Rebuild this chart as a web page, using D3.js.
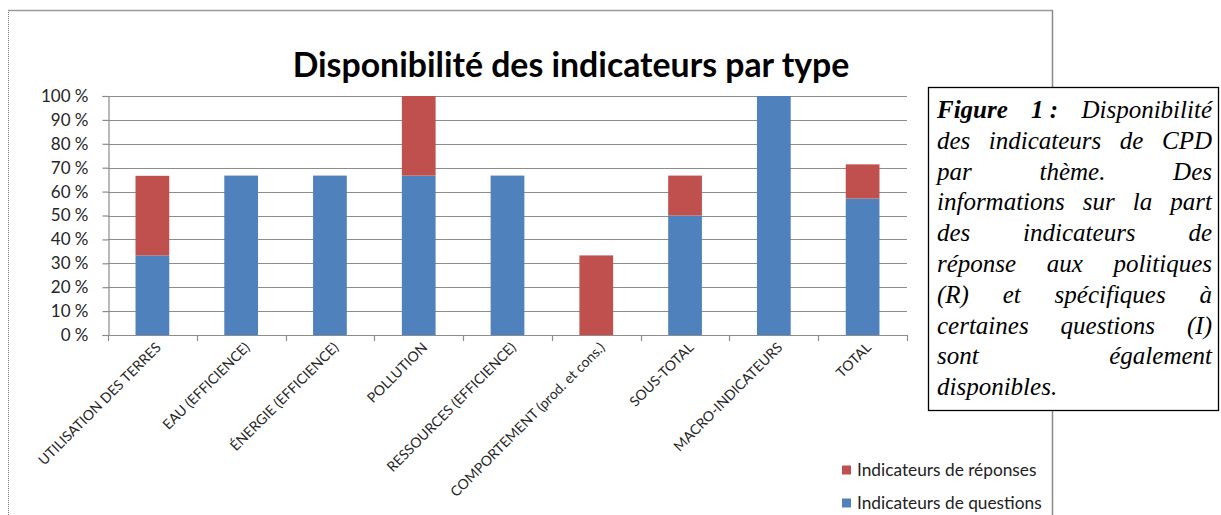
<!DOCTYPE html>
<html><head><meta charset="utf-8">
<script src="https://cdn.jsdelivr.net/npm/d3@7"></script>
<style>html,body{margin:0;padding:0;background:#fff;}svg{display:block;}
.cap{font-family:"Liberation Serif","Times New Roman",Times,serif;font-style:italic;}
</style>
</head><body>
<svg id="c" width="1221" height="515"></svg>
<script>
const categories = ["UTILISATION DES TERRES","EAU (EFFICIENCE)","ÉNERGIE (EFFICIENCE)","POLLUTION","RESSOURCES (EFFICIENCE)","COMPORTEMENT (prod. et cons.)","SOUS-TOTAL","MACRO-INDICATEURS","TOTAL"];
const questions = [33.3, 66.7, 66.7, 66.7, 66.7, 0, 50, 100, 57.1];
const reponses  = [33.3, 0, 0, 33.3, 0, 33.3, 16.7, 0, 14.3];
const yTicks = [0,10,20,30,40,50,60,70,80,90,100];
const seriesNames = ["Indicateurs de réponses","Indicateurs de questions"];
const titleText = "Disponibilité des indicateurs par type";
const captionLines = [
  [["Figure",true],["1 :",true],["Disponibilité",false]],
  [["des",false],["indicateurs",false],["de",false],["CPD",false]],
  [["par",false],["thème.",false],["Des",false]],
  [["informations",false],["sur",false],["la",false],["part",false]],
  [["des",false],["indicateurs",false],["de",false]],
  [["réponse",false],["aux",false],["politiques",false]],
  [["(R)",false],["et",false],["spécifiques",false],["à",false]],
  [["certaines",false],["questions",false],["(I)",false]],
  [["sont",false],["également",false]],
  [["disponibles.",false]]
];

const BLUE = "#4F81BD", RED = "#C0504D", GRID = "#8c8c8c";
const svg = d3.select("#c");
const FONT = "Lato, 'Open Sans', sans-serif";

// outer chart frame
svg.append("line").attr("x1",8.5).attr("x2",8.5).attr("y1",10).attr("y2",515)
  .attr("stroke","#777").attr("stroke-dasharray","1,1");
svg.append("line").attr("x1",8).attr("x2",1052.5).attr("y1",10.5).attr("y2",10.5).attr("stroke","#9a9a9a").attr("stroke-width",1.5);
svg.append("line").attr("x1",1052.5).attr("x2",1052.5).attr("y1",10).attr("y2",515).attr("stroke","#8a8a8a").attr("stroke-width",1.5);

const pLeft = 108, pRight = 907, pTop = 96, pBottom = 335;
const y = d3.scaleLinear().domain([0,100]).range([pBottom, pTop]);
const x = d3.scaleBand().domain(categories).range([pLeft,pRight]).paddingInner(0.62).paddingOuter(0.31);
const xb = d3.scaleBand().domain(categories).range([pLeft,pRight]).padding(0);

// gridlines
svg.append("g").selectAll("line").data(yTicks.filter(d=>d>0)).join("line")
  .attr("x1",pLeft).attr("x2",pRight).attr("y1",d=>Math.round(y(d))+0.5).attr("y2",d=>Math.round(y(d))+0.5)
  .attr("stroke",GRID).attr("stroke-width",1.2);

// y axis
const yAxis = svg.append("g").attr("transform",`translate(${pLeft+0.5},0)`)
  .call(d3.axisLeft(y).tickValues(yTicks).tickSize(6).tickFormat(d=>d+" %"));
yAxis.select(".domain").attr("stroke",GRID).attr("stroke-width",1.2);
yAxis.selectAll(".tick line").attr("stroke",GRID).attr("stroke-width",1.2);
yAxis.selectAll(".tick text").attr("x",-20).attr("font-family",FONT).attr("font-size",17)
  .attr("fill","#262626");

// bars
const data = categories.map((c,i)=>({c, q:questions[i], r:reponses[i]}));
svg.append("g").selectAll("rect").data(data.filter(d=>d.q>0)).join("rect")
  .attr("x",d=>x(d.c)).attr("width",x.bandwidth())
  .attr("y",d=>y(d.q)).attr("height",d=>y(0)-y(d.q)).attr("fill",BLUE);
svg.append("g").selectAll("rect").data(data.filter(d=>d.r>0)).join("rect")
  .attr("x",d=>x(d.c)).attr("width",x.bandwidth())
  .attr("y",d=>y(d.q+d.r)).attr("height",d=>y(d.q)-y(d.q+d.r)).attr("fill",RED);

// x axis
const xAxisG = svg.append("g");
xAxisG.append("line").attr("x1",pLeft).attr("x2",pRight).attr("y1",pBottom+0.5).attr("y2",pBottom+0.5)
  .attr("stroke",GRID).attr("stroke-width",1.2);
const bounds = categories.map(c=>xb(c)).concat([pRight]);
xAxisG.selectAll("line.tk").data(bounds).join("line").attr("class","tk")
  .attr("x1",d=>Math.round(d)+0.5).attr("x2",d=>Math.round(d)+0.5).attr("y1",pBottom).attr("y2",pBottom+6)
  .attr("stroke",GRID).attr("stroke-width",1.2);
xAxisG.selectAll("text").data(categories).join("text")
  .attr("transform",d=>`translate(${x(d)+x.bandwidth()/2+6},${pBottom+10}) rotate(-45)`)
  .attr("text-anchor","end").attr("dy","0.35em")
  .attr("font-family",FONT).attr("font-size",14).attr("fill","#262626").text(d=>d);

// title
const title = svg.append("text").attr("x",571).attr("y",77).attr("text-anchor","middle")
  .attr("font-family",FONT).attr("font-weight","bold").attr("font-size",30).attr("fill","#000").text(titleText);
const tw = title.node().getComputedTextLength();
title.attr("font-size",30*557/tw);

// legend
const lg = svg.append("g");
const legRows = [{n:seriesNames[0],c:RED,y:470},{n:seriesNames[1],c:BLUE,y:503}];
legRows.forEach(r=>{
  lg.append("rect").attr("x",842).attr("y",r.y-4.5).attr("width",9).attr("height",9).attr("fill",r.c);
  lg.append("text").attr("x",857).attr("y",r.y).attr("dy","0.35em").attr("font-family",FONT)
    .attr("font-size",17.3).attr("fill","#222").text(r.n);
});

// caption box
svg.append("rect").attr("x",928.5).attr("y",87.5).attr("width",290).attr("height",323)
  .attr("fill","#fff").attr("stroke","#000").attr("stroke-width",1.3);
const cx0 = 937, cx1 = 1212, base0 = 118, lh = 30.8;
captionLines.forEach((words,li)=>{
  const t = svg.append("text").attr("class","cap").attr("y",base0+li*lh)
    .attr("font-size",25).attr("fill","#000");
  const spans = words.map(([w,b])=>t.append("tspan").attr("font-weight",b?"bold":"normal").text(w));
  const widths = spans.map(s=>s.node().getComputedTextLength());
  const total = d3.sum(widths);
  const last = li===captionLines.length-1;
  const gap = (last||words.length<2) ? 6 : (cx1-cx0-total)/(words.length-1);
  let pos = cx0;
  spans.forEach((s,i)=>{ s.attr("x",pos); pos += widths[i]+gap; });
});
</script>
</body></html>
